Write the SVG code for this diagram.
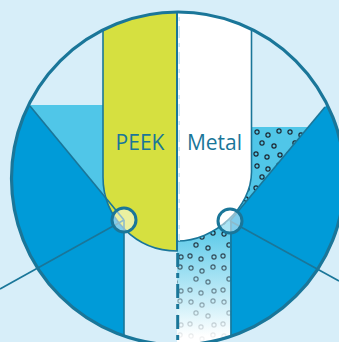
<svg xmlns="http://www.w3.org/2000/svg" width="339" height="342" viewBox="0 0 339 342">
<style>
.ln{stroke:#1a7699;stroke-width:1.6;fill:none}
.edge{stroke:#1a7699;stroke-width:1.6}
.blue{fill:#009bd8}
.cyan{fill:#50c6e8}
.lbl{font-family:"Open Sans","Liberation Sans",sans-serif;font-size:21px;fill:#1a7699;text-anchor:middle}
.knot{fill:#ffffff;fill-opacity:0.5;stroke:#1a7699;stroke-width:3}
</style>
<defs>
<clipPath id="cc"><circle cx="178" cy="178.5" r="166.5"/></clipPath>
<linearGradient id="fade" gradientUnits="userSpaceOnUse" x1="0" y1="222" x2="0" y2="336">
<stop offset="0" stop-color="#50c6e8"/><stop offset="1" stop-color="#ffffff"/>
</linearGradient>
<linearGradient id="fadeMask" gradientUnits="userSpaceOnUse" x1="0" y1="232" x2="0" y2="345">
<stop offset="0" stop-color="#ffffff"/><stop offset="1" stop-color="#000000"/>
</linearGradient>
<mask id="dm" maskUnits="userSpaceOnUse" x="0" y="0" width="339" height="342">
<rect x="0" y="0" width="339" height="342" fill="url(#fadeMask)"/>
</mask>
<pattern id="dots" patternUnits="userSpaceOnUse" x="252" y="128" width="33" height="34">
<g fill="none" stroke="#1c2833" stroke-width="1.2">
<circle cx="5" cy="4" r="2.1"/>
<circle cx="16" cy="7" r="2.1"/>
<circle cx="27" cy="3" r="2.1"/>
<circle cx="10" cy="15" r="2.1"/>
<circle cx="22" cy="18" r="2.1"/>
<circle cx="4" cy="26" r="2.1"/>
<circle cx="15" cy="29" r="2.1"/>
<circle cx="28" cy="27" r="2.1"/>
</g>
</pattern>
</defs>
<rect x="0" y="0" width="339" height="342" fill="#d7eef9"/>
<g clip-path="url(#cc)">
<g id="metal-fill-zone">
<rect x="177" y="127" width="162" height="220" fill="url(#fade)"/>
<rect x="177" y="127" width="162" height="220" fill="url(#dots)" mask="url(#dm)"/>
</g>
<g id="peek-fill-zone">
<rect x="0" y="105" width="104" height="150" class="cyan"/>
</g>
<g id="left-wedge">
<polygon class="blue" points="124,220 -26,38 -26,400 124,400"/>
</g>
<g id="right-wedge">
<polygon class="blue" points="230,221 380,41 380,400 231,400"/>
</g>
<g id="peek">
<path d="M103,-10 L103,177 A74,74 0 0 0 177,251 L177,-10 Z" fill="#d6e040" class="edge"/>
</g>
<g id="metal">
<path d="M251.5,-10 L251.5,172 C251.5,207 215,241 177,241 L177,-10 Z" fill="#ffffff" class="edge"/>
</g>
<g id="connectors">
<line class="ln" x1="30" y1="106" x2="124" y2="220"/>
<line class="ln" x1="124" y1="220" x2="124" y2="350"/>
<line class="ln" x1="325" y1="107" x2="230" y2="221"/>
<line class="ln" x1="231" y1="221" x2="231" y2="350"/>
<line x1="177" y1="0" x2="177" y2="251" stroke="#1a7699" stroke-width="2"/>
<line x1="179.2" y1="0" x2="179.2" y2="241" stroke="#c4e5f3" stroke-width="1.4" stroke-dasharray="12 5 4 5"/>
<line x1="177.7" y1="253" x2="177.7" y2="345" stroke="#1a7699" stroke-width="3" stroke-dasharray="14 6 5 6"/>
</g>
</g>
<g id="outer-lines">
<line class="ln" x1="124" y1="220" x2="0" y2="289"/>
<line class="ln" x1="230" y1="221" x2="339" y2="281"/>
</g>
<g id="ring">
<circle cx="178" cy="178.5" r="166.5" fill="none" stroke="#1a7699" stroke-width="3.2"/>
</g>
<g id="knot-left"><circle class="knot" cx="124" cy="220" r="12"/></g>
<g id="knot-right"><circle class="knot" cx="230" cy="221" r="12"/></g>
<g id="labels">
<text class="lbl" x="140" y="150">PEEK</text>
<text class="lbl" x="214.5" y="150">Metal</text>
</g>
</svg>
